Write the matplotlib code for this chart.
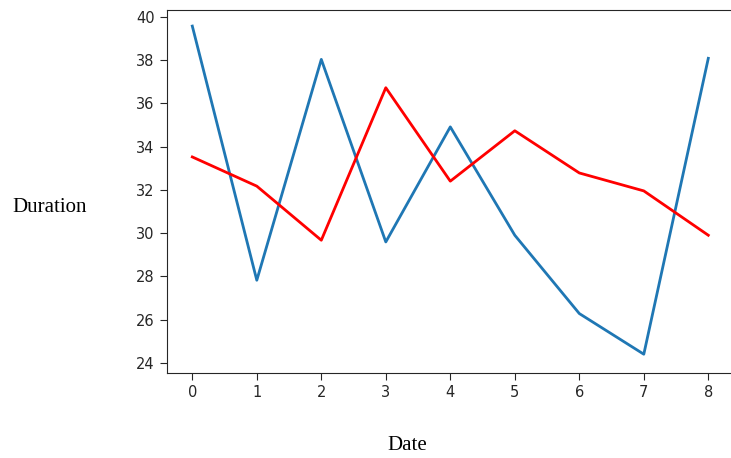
import matplotlib
matplotlib.use('Agg')
import matplotlib.pyplot as plt

dates = list(range(9))
blue_vals = [39.57, 27.82, 38.03, 29.59, 34.91, 29.90, 26.28, 24.40, 38.08]
red_vals = [33.52, 32.17, 29.67, 36.72, 32.40, 34.73, 32.78, 31.95, 29.90]

fig = plt.figure(figsize=(7.31, 4.58), dpi=100)
# right spine falls just past the image edge, as in the reference
ax = fig.add_axes([166.5 / 731, 0.186, 567.6 / 731, 0.792])

ax.plot(dates, blue_vals, color='#1f77b4', linewidth=2)
ax.plot(dates, red_vals, color='red', linewidth=2)

ax.set_xticks(dates)
ax.set_xlim(-0.4, 8.4)
ax.set_yticks(range(24, 41, 2))
ax.set_ylim(23.54, 40.31)
ax.tick_params(labelsize=10.5, length=5, colors='#262626')
for s in ax.spines.values():
    s.set_color('#262626')

serif = ['Liberation Serif', 'DejaVu Serif']
fig.text(50 / 731, 1 - 207 / 458, 'Duration', family=serif, fontsize=15,
         ha='center', va='center')
fig.text(407 / 731, 1 - 446 / 458, 'Date', family=serif, fontsize=15,
         ha='center', va='center')

fig.savefig('out.png', dpi=100)
